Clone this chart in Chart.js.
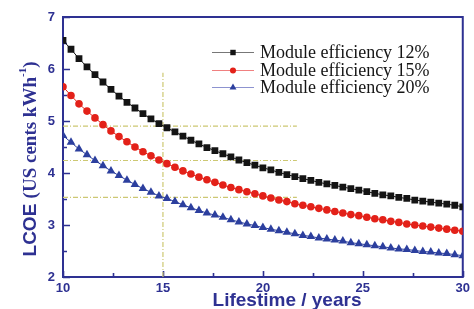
<!DOCTYPE html>
<html><head><meta charset="utf-8">
<script src="https://cdn.jsdelivr.net/npm/chart.js@4/dist/chart.umd.min.js"></script>
<style>html,body{margin:0;padding:0;background:#fff;overflow:hidden}</style>
</head><body>
<canvas id="c" width="474" height="309"></canvas>
<script>
// ---- data ----
const lifetimes = [10.0,10.4,10.8,11.2,11.6,12.0,12.4,12.8,13.2,13.6,14.0,14.4,14.8,15.2,15.6,16.0,16.4,16.8,17.2,17.6,
  18.0,18.4,18.8,19.2,19.6,20.0,20.4,20.8,21.2,21.6,22.0,22.4,22.8,23.2,23.6,24.0,24.4,24.8,25.2,25.6,
  26.0,26.4,26.8,27.2,27.6,28.0,28.4,28.8,29.2,29.6,30.0];
const eff12 = [6.55,6.38,6.20,6.04,5.89,5.75,5.61,5.48,5.36,5.25,5.14,5.04,4.95,4.87,4.79,4.71,4.63,4.56,4.49,4.43,
  4.37,4.31,4.25,4.20,4.15,4.10,4.06,4.01,3.97,3.93,3.89,3.86,3.82,3.79,3.76,3.73,3.70,3.67,3.64,3.61,
  3.58,3.56,3.53,3.51,3.48,3.46,3.44,3.42,3.40,3.38,3.35];
const eff15 = [5.66,5.49,5.33,5.19,5.06,4.93,4.81,4.70,4.60,4.50,4.41,4.33,4.25,4.18,4.11,4.04,3.98,3.92,3.87,3.82,
  3.77,3.72,3.68,3.64,3.60,3.56,3.52,3.48,3.45,3.41,3.38,3.35,3.32,3.29,3.26,3.23,3.20,3.18,3.15,3.12,
  3.10,3.07,3.05,3.02,3.00,2.98,2.96,2.94,2.92,2.90,2.88];
const eff20 = [4.72,4.59,4.46,4.35,4.24,4.14,4.04,3.95,3.86,3.78,3.70,3.63,3.56,3.51,3.45,3.39,3.33,3.28,3.23,3.19,
  3.15,3.10,3.06,3.02,2.99,2.95,2.92,2.89,2.86,2.83,2.80,2.78,2.75,2.73,2.71,2.69,2.66,2.64,2.62,2.60,
  2.58,2.56,2.54,2.53,2.51,2.49,2.48,2.46,2.45,2.43,2.41];
const seriesLabels = ['Module efficiency 12%','Module efficiency 15%','Module efficiency 20%'];
const xTicks = [10,15,20,25,30];
const yTicks = [2,3,4,5,6,7];
const xTitle = 'Lifestime / years';
const guideLifetime = 15;
const guideLevels = [4.90, 4.24, 3.53];
const guideEndLifetime = 21.7;
const guideTop = 5.93;

// ---- styling ----
const NAVY = '#2e3192';
const GUIDE = '#cdc873';
const pts = arr => lifetimes.map((x,i)=>({x, y: arr[i]}));

const series = [
  {label: seriesLabels[0], data: pts(eff12), color:'#141414', legendLine:'#777777', style:'rect', r:4.8},
  {label: seriesLabels[1], data: pts(eff15), color:'#e32119', legendLine:'#f08080', style:'circle', r:3.8},
  {label: seriesLabels[2], data: pts(eff20), color:'#2c3f9e', legendLine:'#8d93d0', style:'triangle', r:5.0},
];

const datasets = series.map((s,i)=>({
  label: s.label, data: s.data, borderColor: s.color, backgroundColor: s.color,
  borderWidth: 1, pointStyle: s.style, pointRadius: s.r, pointBorderWidth: 0,
  pointBackgroundColor: s.color, order: i, legendLine: s.legendLine
}));
const guideStyle = {borderColor: GUIDE, borderWidth: 1.2, borderDash:[5,2,1,2], pointRadius:0, order:10, isGuide:true};
datasets.push(Object.assign({label:'guideV', data:[{x:guideLifetime,y:yTicks[0]},{x:guideLifetime,y:guideTop}]}, guideStyle));
guideLevels.forEach((v,i)=>datasets.push(Object.assign({label:'guideH'+i, data:[{x:xTicks[0],y:v},{x:guideEndLifetime,y:v}]}, guideStyle)));

const framePlugin = {
  id:'frame',
  beforeDatasetsDraw(chart){
    const {ctx, chartArea:a, scales:{x,y}} = chart;
    ctx.save();
    ctx.strokeStyle = NAVY;
    ctx.lineWidth = 2;
    ctx.strokeRect(a.left, a.top, a.right-a.left, a.bottom-a.top);
    ctx.lineWidth = 1.6;
    ctx.beginPath();
    for (let v=yTicks[0]; v<=yTicks[yTicks.length-1]; v+=0.5){
      const py = Math.round(y.getPixelForValue(v))+0.5;
      const len = Number.isInteger(v)?7:4;
      ctx.moveTo(a.left, py); ctx.lineTo(a.left+len, py);
    }
    for (let v=xTicks[0]; v<=xTicks[xTicks.length-1]; v+=2.5){
      const px = Math.round(x.getPixelForValue(v))+0.5;
      const len = (v%5===0)?6:4;
      ctx.moveTo(px, a.bottom); ctx.lineTo(px, a.bottom-len);
    }
    ctx.stroke();
    ctx.restore();
  }
};

const legendPlugin = {
  id:'inlegend',
  afterDraw(chart){
    const {ctx} = chart;
    const rows = [52,70,87];
    ctx.save();
    chart.data.datasets.filter(d=>!d.isGuide).forEach((d,i)=>{
      const yy = rows[i];
      ctx.strokeStyle = d.legendLine; ctx.lineWidth = 1.2;
      ctx.beginPath(); ctx.moveTo(212, yy+0.5); ctx.lineTo(254, yy+0.5); ctx.stroke();
      ctx.fillStyle = d.pointBackgroundColor; ctx.strokeStyle = d.pointBackgroundColor;
      Chart.helpers.drawPoint(ctx, {pointStyle:d.pointStyle, radius:d.pointRadius*0.8, borderWidth:0}, 233, yy+0.5);
      ctx.fillStyle = '#151515';
      ctx.font = '18px "Liberation Serif", "Times New Roman", serif';
      ctx.textBaseline = 'middle'; ctx.textAlign = 'left';
      ctx.fillText(d.label, 260, yy+1);
    });
    ctx.restore();
  }
};

const titlesPlugin = {
  id:'titles',
  afterDraw(chart){
    const {ctx} = chart;
    const parts = [
      {t:'LCOE ', f:'bold 19px "Liberation Sans", Arial, sans-serif', dy:0},
      {t:'(US cents kWh', f:'bold 19px "Liberation Serif", "Times New Roman", serif', dy:0},
      {t:'-1', f:'bold 11px "Liberation Serif", "Times New Roman", serif', dy:-8},
      {t:')', f:'bold 19px "Liberation Serif", "Times New Roman", serif', dy:0},
    ];
    let w = 0;
    parts.forEach(p=>{ctx.font=p.f; p.w = ctx.measureText(p.t).width; w += p.w;});
    ctx.save();
    ctx.fillStyle = NAVY; ctx.textBaseline = 'middle';
    ctx.save();
    ctx.translate(30, 159);
    ctx.rotate(-Math.PI/2);
    ctx.textAlign='left';
    let cx = -w/2;
    parts.forEach(p=>{ctx.font=p.f; ctx.fillText(p.t, cx, p.dy+1); cx += p.w;});
    ctx.restore();
    ctx.font = 'bold 19px "Liberation Sans", Arial, sans-serif';
    ctx.textAlign = 'center';
    ctx.fillText(xTitle, 287, 301);
    ctx.restore();
  }
};

new Chart(document.getElementById('c'), {
  type:'line',
  data:{datasets},
  options:{
    responsive:false, animation:false, devicePixelRatio:1,
    layout:{padding:{top:17, right:8, left:0, bottom:0}},
    plugins:{legend:{display:false}, tooltip:{enabled:false}},
    scales:{
      x:{type:'linear', min:xTicks[0], max:xTicks[xTicks.length-1],
        afterBuildTicks: s=>{ s.ticks = xTicks.map(v=>({value:v})); },
        afterFit: s=>{ s.height = 32; },
        grid:{display:false, drawTicks:false}, border:{display:false},
        ticks:{color:NAVY, padding:4, font:{family:'"Liberation Sans", Arial, sans-serif', weight:'bold', size:13}, maxRotation:0}
      },
      y:{type:'linear', min:yTicks[0], max:yTicks[yTicks.length-1],
        afterBuildTicks: s=>{ s.ticks = yTicks.map(v=>({value:v})); },
        afterFit: s=>{ s.width = 63; },
        grid:{display:false, drawTicks:false}, border:{display:false},
        ticks:{color:NAVY, padding:8, font:{family:'"Liberation Sans", Arial, sans-serif', weight:'bold', size:13}}
      }
    }
  },
  plugins:[framePlugin, legendPlugin, titlesPlugin]
});
</script>
</body></html>
